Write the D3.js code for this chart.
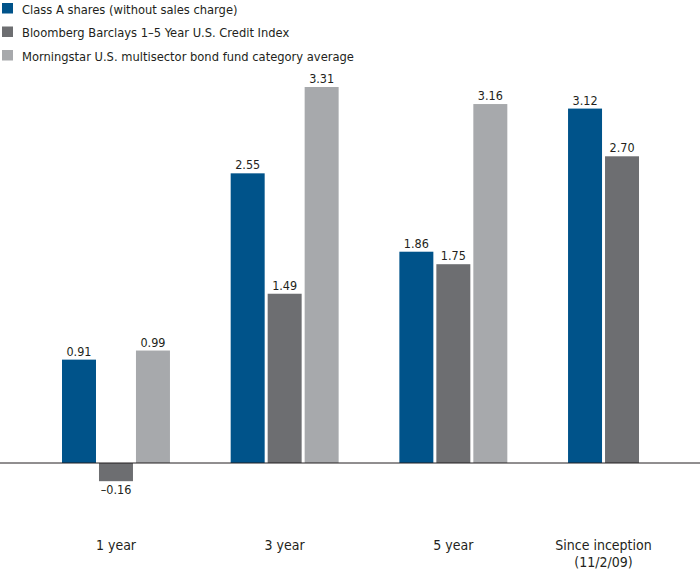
<!DOCTYPE html>
<html><head><meta charset="utf-8">
<script src="https://cdn.jsdelivr.net/npm/d3@7"></script>
<style>body{margin:0;background:#fff}svg{display:block}</style>
</head><body>
<svg id="c" width="700" height="573"></svg>
<script>
const categories = ["1 year", "3 year", "5 year", "Since inception|(11/2/09)"];
const seriesNames = ["Class A shares (without sales charge)", "Bloomberg Barclays 1\u20135 Year U.S. Credit Index", "Morningstar U.S. multisector bond fund category average"];
const classA = [0.91, 2.55, 1.86, 3.12];
const bloomberg = [-0.16, 1.49, 1.75, 2.70];
const morningstar = [0.99, 3.31, 3.16, null];
const colors = ["#00538a", "#6d6e71", "#a7a9ac"];
const seriesValues = [classA, bloomberg, morningstar];

const svg = d3.select("#c");
const font = "'DejaVu Sans Condensed', sans-serif";

const x0 = d3.scaleBand().domain(categories).range([62, 676]).paddingInner(0.36).paddingOuter(0);
const x1 = d3.scaleBand().domain(d3.range(3)).range([0, x0.bandwidth()]).paddingInner(0.081);
const y = d3.scaleLinear().domain([0, 3.31]).range([463, 87]);

// legend
const lg = svg.append("g");
seriesNames.forEach((n, i) => {
  lg.append("rect").attr("x", 2).attr("y", 3 + i * 23.5).attr("width", 11).attr("height", 10.5).attr("fill", colors[i]);
  lg.append("text").attr("x", 22).attr("y", 13.5 + i * 23.5).attr("font-family", font).attr("font-size", 12.8)
    .attr("fill", "#231f20").text(n);
});

// bars
categories.forEach((c, ci) => {
  seriesValues.forEach((vals, si) => {
    const v = vals[ci];
    if (v === null) return;
    const bx = x0(c) + x1(si);
    svg.append("rect").attr("x", bx).attr("width", x1.bandwidth())
      .attr("y", Math.min(y(v), y(0))).attr("height", Math.abs(y(v) - y(0))).attr("fill", colors[si]);
    svg.append("text").attr("x", bx + x1.bandwidth() / 2)
      .attr("y", v >= 0 ? y(v) - 4 : y(v) + 13)
      .attr("text-anchor", "middle").attr("font-family", font).attr("font-size", 12.5).attr("fill", "#231f20")
      .text(v < 0 ? "\u2013" + Math.abs(v).toFixed(2) : v.toFixed(2));
  });
});

// baseline
svg.append("line").attr("x1", 0).attr("x2", 700).attr("y1", y(0)).attr("y2", y(0)).attr("stroke", "#231f20").attr("stroke-width", 1);

// category labels
categories.forEach((c, ci) => {
  const present = seriesValues.map((v, si) => v[ci] === null ? null : si).filter(s => s !== null);
  const left = x0(c) + x1(present[0]);
  const right = x0(c) + x1(present[present.length - 1]) + x1.bandwidth();
  const cx = (left + right) / 2;
  c.split("|").forEach((line, li) => {
    svg.append("text").attr("x", cx).attr("y", 550 + li * 16.5).attr("text-anchor", "middle")
      .attr("font-family", font).attr("font-size", 14).attr("fill", "#231f20").text(line);
  });
});
</script>
</body></html>
